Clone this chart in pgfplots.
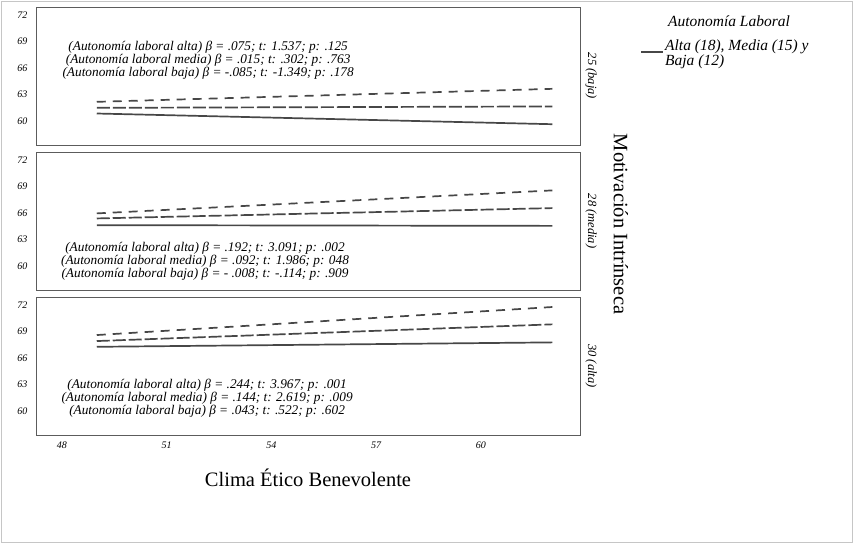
\documentclass[border=0pt]{standalone}
\usepackage{fontspec}
\setmainfont{Liberation Serif}
\usepackage{pgfplots}
\pgfplotsset{compat=1.18}

\definecolor{linegray}{HTML}{474747}
\definecolor{framegray}{HTML}{5C5C5C}

\pgfplotsset{
  panel/.style={
    width=544pt, height=138pt, scale only axis,
    xmin=47.26, xmax=62.84, ymin=57.3, ymax=72.9,
    xtick={48,51,...,60}, ytick={60,63,...,72},
    major tick length=0pt,
    axis line style={framegray, line width=0.9pt},
    tick label style={font=\fontsize{10}{11}\selectfont\itshape},
    /pgf/number format/assume math mode=true,
    yticklabel style={xshift=-5pt},
    xticklabel style={yshift=-3pt},
    clip=false,
  },
  baja/.style={linegray, line width=1.7pt},
  media/.style={linegray, line width=1.7pt, dash pattern=on 13pt off 3pt},
  alta/.style={linegray, line width=1.7pt, dash pattern=on 9pt off 7pt},
}
\tikzset{
  note/.style={align=center, font=\fontsize{13.3}{13}\selectfont\itshape},
  side/.style={rotate=-90, font=\fontsize{12.5}{13}\selectfont\itshape},
  leg/.style={font=\fontsize{15.5}{15}\selectfont\itshape, inner sep=0pt},
}

\begin{document}
\begin{tikzpicture}
\useasboundingbox (0,0) rectangle (854pt,-544pt);
\draw[gray!45] (1.5pt,-1.5pt) rectangle (852.5pt,-542.5pt);

% panel 1: 25 (baja)
\begin{axis}[panel, at={(36pt,-7pt)}, anchor=north west, xticklabels={}]
\addplot[alta] coordinates {(49,62.18) (62.05,63.65)};
\addplot[media] coordinates {(49,61.50) (62.05,61.66)};
\addplot[baja] coordinates {(49,60.86) (62.05,59.65)};
\node[note] at (axis cs:52.19,66.9) {(Autonomía laboral alta) β = .075; t: 1.537; p: .125\\
(Autonomía laboral media) β = .015; t: .302; p: .763\\
(Autonomía laboral baja) β = -.085; t: -1.349; p: .178};
\node[xshift=11pt, side] at (rel axis cs:1,0.5) {25 (baja)};
\end{axis}

% panel 2: 28 (media)
\begin{axis}[panel, at={(36pt,-152pt)}, anchor=north west, xticklabels={}]
\addplot[alta] coordinates {(49,65.96) (62.05,68.56)};
\addplot[media] coordinates {(49,65.39) (62.05,66.56)};
\addplot[baja] coordinates {(49,64.63) (62.05,64.55)};
\node[note] at (axis cs:52.10,60.56) {(Autonomía laboral alta) β = .192; t: 3.091; p: .002\\
(Autonomía laboral media) β = .092; t: 1.986; p: 048\\
(Autonomía laboral baja) β = - .008; t: -.114; p: .909};
\node[xshift=11pt, side] at (rel axis cs:1,0.5) {28 (media)};
\end{axis}

% panel 3: 30 (alta)
\begin{axis}[panel, at={(36pt,-297pt)}, anchor=north west]
\addplot[alta] coordinates {(49,68.60) (62.05,71.77)};
\addplot[media] coordinates {(49,67.92) (62.05,69.81)};
\addplot[baja] coordinates {(49,67.27) (62.05,67.77)};
\node[note] at (axis cs:52.16,61.46) {(Autonomía laboral alta) β = .244; t: 3.967; p: .001\\
(Autonomía laboral media) β = .144; t: 2.619; p: .009\\
(Autonomía laboral baja) β = .043; t: .522; p: .602};
\node[xshift=11pt, side] at (rel axis cs:1,0.5) {30 (alta)};
\end{axis}

\node[font=\fontsize{20.5}{22}\selectfont] at (308pt,-478pt) {Clima Ético Benevolente};
\node[rotate=-90, font=\fontsize{20.5}{22}\selectfont] at (621pt,-224pt) {Motivación Intrínseca};

% legend
\node[leg] at (729pt,-21pt) {Autonomía Laboral};
\draw[linegray, line width=1.7pt] (641pt,-52pt) -- (663pt,-52pt);
\node[leg, anchor=west] at (665pt,-46.5pt) {Alta (18), Media (15) y};
\node[leg, anchor=west] at (665pt,-61.5pt) {Baja (12)};
\end{tikzpicture}
\end{document}
